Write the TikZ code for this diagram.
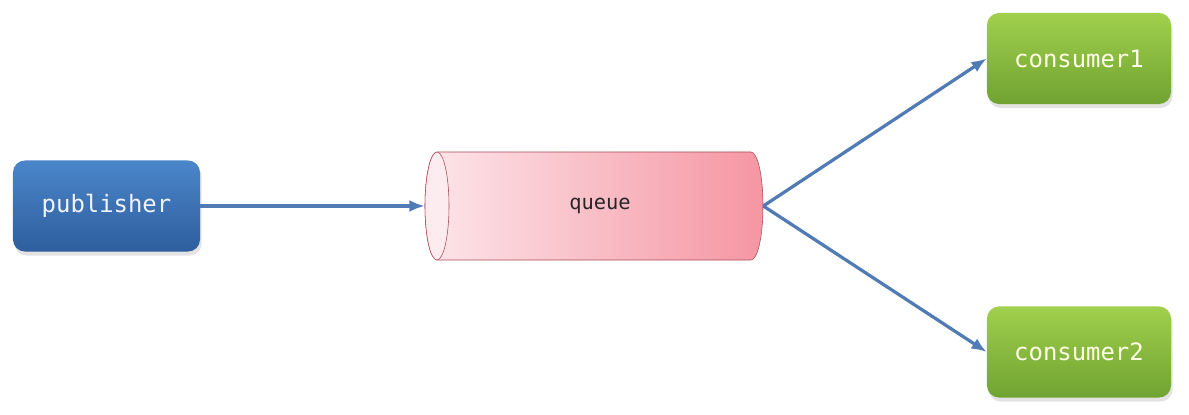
\documentclass[tikz,border=0pt]{standalone}
\usepackage{fontspec}
\setmonofont{DejaVu Sans Mono}
\usepackage{tikz}
\usetikzlibrary{arrows.meta, positioning, calc, shadows}
\definecolor{pubtop}{RGB}{74,134,202}
\definecolor{pubbottom}{RGB}{46,94,158}
\definecolor{contop}{RGB}{160,208,76}
\definecolor{conbottom}{RGB}{112,163,50}
\definecolor{queueleft}{RGB}{253,230,234}
\definecolor{queueright}{RGB}{245,150,163}
\definecolor{queueface}{RGB}{253,236,239}
\definecolor{queueborder}{RGB}{170,75,90}
\definecolor{arrowblue}{RGB}{80,123,180}

\begin{document}
\begin{tikzpicture}[x=0.025cm, y=0.025cm,
    box/.style={rounded corners=0.3cm, minimum height=2.275cm, inner sep=0pt,
        font=\ttfamily\fontsize{17}{20}\selectfont,
        drop shadow={opacity=0.22, shadow xshift=0.04cm, shadow yshift=-0.1cm}},
    pubbox/.style={box, top color=pubtop, bottom color=pubbottom, text=blue!5,
        minimum width=4.675cm},
    conbox/.style={box, top color=contop, bottom color=conbottom, text=yellow!10,
        minimum width=4.6cm},
    flow/.style={draw=arrowblue, line width=2.3pt, -{Latex[length=0.38cm, width=0.3cm]}}]
    \useasboundingbox (0,0) rectangle (1189,414);

    % Publisher and consumers
    \node[pubbox] (publisher) at (106.5,208) {publisher};
    \node[conbox] (consumer1) at (1079,355.5) {consumer1};
    \node[conbox] (consumer2) at (1079,62) {consumer2};

    % Queue cylinder
    \shade[left color=queueleft, right color=queueright, draw=queueborder, thin]
        (437,262) -- (751,262)
        arc[start angle=90, end angle=-90, x radius=0.3cm, y radius=1.35cm]
        -- (437,154)
        arc[start angle=270, end angle=90, x radius=0.3cm, y radius=1.35cm] -- cycle;
    \draw[queueborder, thin, fill=queueface] (437,208) ellipse[x radius=0.3cm, y radius=1.35cm];
    \node[minimum width=8.45cm, minimum height=2.7cm, inner sep=0pt] (queue) at (594,208) {};
    \node[font=\ttfamily\fontsize{14.5}{17}\selectfont, text=black!85] (queuelabel) at (600,208) {queue};

    % Connectors
    \draw[flow] (publisher.east) -- (queue.west);
    \draw[flow] (queue.east) -- (consumer1.west);
    \draw[flow] (queue.east) -- (consumer2.west);
\end{tikzpicture}
\end{document}
